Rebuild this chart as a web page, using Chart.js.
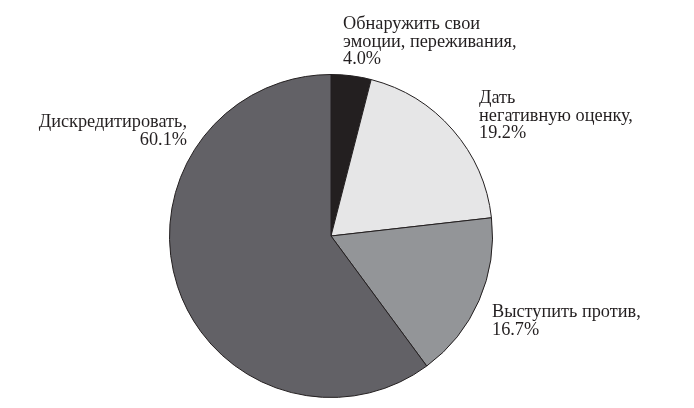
<!DOCTYPE html>
<html>
<head>
<meta charset="utf-8">
<script src="https://cdn.jsdelivr.net/npm/chart.js@4"></script>
<style>
  html, body { margin: 0; padding: 0; background: #fff; }
  #wrap { width: 694px; height: 408px; position: relative; }
</style>
</head>
<body>
<div id="wrap"><canvas id="chartCanvas" width="694" height="408"></canvas></div>
<script>
const categories = [
  "Обнаружить свои эмоции, переживания",
  "Дать негативную оценку",
  "Выступить против",
  "Дискредитировать"
];
const shares = [4.0, 19.2, 16.7, 60.1];
const sliceColors = ["#231f20", "#e6e6e7", "#939598", "#626166"];

// label lines per slice, the percentage is added as the last line
const labelLines = [
  ["Обнаружить свои", "эмоции, переживания,"],
  ["Дать", "негативную оценку,"],
  ["Выступить против,"],
  ["Дискредитировать,"]
];
// x, baseline of the first line, alignment
const labelPlaces = [
  { x: 343, y: 29, align: "left" },
  { x: 479, y: 103, align: "left" },
  { x: 492, y: 317, align: "left" },
  { x: 187, y: 127, align: "right" }
];

const pieLabels = {
  id: "pieLabels",
  afterDraw(chart) {
    const ctx = chart.ctx;
    ctx.save();
    ctx.fillStyle = "#231f20";
    ctx.font = "18.3px 'Liberation Serif', 'DejaVu Serif', serif";
    ctx.textBaseline = "alphabetic";
    const lh = 17.5;
    shares.forEach((v, i) => {
      const p = labelPlaces[i];
      const lines = labelLines[i].concat([v.toFixed(1) + "%"]);
      ctx.textAlign = p.align;
      lines.forEach((t, k) => ctx.fillText(t, p.x, p.y + k * lh));
    });
    ctx.restore();
  }
};

new Chart(document.getElementById("chartCanvas"), {
  type: "pie",
  data: {
    labels: categories,
    datasets: [{
      data: shares,
      backgroundColor: sliceColors,
      borderColor: "#231f20",
      borderWidth: 1
    }]
  },
  options: {
    responsive: false,
    animation: false,
    layout: { padding: { left: 169, right: 201, top: 74, bottom: 10 } },
    plugins: {
      legend: { display: false },
      tooltip: { enabled: false }
    }
  },
  plugins: [pieLabels]
});
</script>
</body>
</html>
